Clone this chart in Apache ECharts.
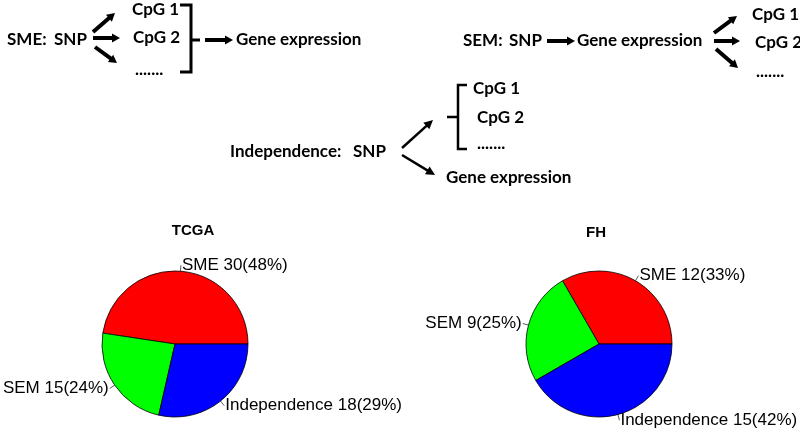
<!DOCTYPE html>
<html>
<head>
<meta charset="utf-8">
<script src="https://cdn.jsdelivr.net/npm/echarts@6/dist/echarts.min.js"></script>
<style>html,body{margin:0;padding:0;background:#fff}#c{width:800px;height:432px}</style>
</head>
<body>
<div id="c"></div>
<script>
// ---- data ----
const categories = ['SME', 'SEM', 'Independence'];
const tcgaValues = [30, 15, 18];
const fhValues = [12, 9, 15];
const sliceColors = ['#ff0000', '#00ff00', '#0000ff'];
const pieTitles = ['TCGA', 'FH'];

const chart = echarts.init(document.getElementById('c'));
const DFONT = 'bold 17px Lato';

function txt(s, x, y, font, align) {
  return { type: 'text', silent: true, style: { text: s, x: x, y: y, font: font || DFONT, fill: '#000',
    align: align || 'left', verticalAlign: 'middle', textAlign: align || 'left', textVerticalAlign: 'middle' } };
}
function line(points, w) {
  return { type: 'polyline', silent: true, shape: { points: points }, style: { stroke: '#000', lineWidth: w, fill: null, lineJoin: 'miter', lineCap: 'butt' } };
}
function arrow(x1, y1, x2, y2, w, h, hw) {
  const dx = x2 - x1, dy = y2 - y1, L = Math.sqrt(dx * dx + dy * dy);
  const ux = dx / L, uy = dy / L, nx = -uy, ny = ux;
  const bx = x2 - ux * h, by = y2 - uy * h;
  return [
    line([[x1, y1], [bx + ux, by + uy]], w),
    { type: 'polygon', silent: true, shape: { points: [[x2, y2], [bx + nx * hw, by + ny * hw], [bx - nx * hw, by - ny * hw]] }, style: { fill: '#000' } }
  ];
}

const els = [];
// SME diagram
els.push(txt('SME:', 7, 40), txt('SNP', 54, 40));
els.push(...arrow(93, 32, 115, 13, 4, 8, 4.5));
els.push(...arrow(93, 38, 120, 38, 4, 8, 4.5));
els.push(...arrow(95, 47, 117, 63, 4, 8, 4.5));
els.push(txt('CpG 1', 132, 10), txt('CpG 2', 133, 38), txt('.......', 135, 70));
els.push(line([[180, 5], [191, 5], [191, 72], [180, 72]], 3));
els.push(line([[191, 40], [200, 40]], 3));
els.push(...arrow(205, 40, 233, 40, 4, 8, 4.5));
els.push(txt('Gene expression', 236, 40));

// SEM diagram
els.push(txt('SEM:', 463, 41), txt('SNP', 509, 41));
els.push(...arrow(547, 41, 575, 41, 4, 8, 4.5));
els.push(txt('Gene expression', 577, 41));
els.push(...arrow(714, 33, 737, 16, 4, 8, 4.5));
els.push(...arrow(714, 41, 740, 41, 4, 8, 4.5));
els.push(...arrow(716, 49, 738, 68, 4, 8, 4.5));
els.push(txt('CpG 1', 752, 15), txt('CpG 2', 755, 43), txt('.......', 756, 72));

// Independence diagram
els.push(txt('Independence:', 230, 152), txt('SNP', 353, 152));
els.push(...arrow(402, 148, 433, 120, 2.5, 9, 4.5));
els.push(...arrow(402, 155, 435, 175, 2.5, 9, 4.5));
els.push(line([[467, 85], [458, 85], [458, 149], [467, 149]], 2.5));
els.push(line([[447, 117], [458, 117]], 2.5));
els.push(txt('CpG 1', 473, 89), txt('CpG 2', 477, 118), txt('.......', 477, 144));
els.push(txt('Gene expression', 446, 178));

// pie titles
els.push(txt(pieTitles[0], 193, 231, 'bold 15px "Liberation Sans"', 'center'));
els.push(txt(pieTitles[1], 596, 233, 'bold 15px "Liberation Sans"', 'center'));

function pieSeries(values, center) {
  const total = values.reduce((a, b) => a + b, 0);
  return {
    type: 'pie',
    center: center,
    radius: 73,
    startAngle: 0,
    clockwise: false,
    avoidLabelOverlap: false,
    silent: true,
    animation: false,
    emphasis: { disabled: true },
    itemStyle: { borderColor: '#000', borderWidth: 0.8 },
    label: {
      show: true, position: 'outside', color: '#000',
      fontFamily: '"Liberation Sans", Arial, sans-serif', fontSize: 17,
      distanceToLabelLine: 1,
      formatter: p => p.name + ' ' + p.value + '(' + Math.round(p.value / total * 100) + '%)'
    },
    labelLine: { show: true, length: 6, length2: 0, smooth: false, lineStyle: { color: '#333', width: 0.8 } },
    data: categories.map((c, i) => ({ name: c, value: values[i], itemStyle: { color: sliceColors[i] } }))
  };
}

chart.setOption({
  backgroundColor: '#fff',
  animation: false,
  series: [pieSeries(tcgaValues, [175, 344]), pieSeries(fhValues, [599, 344])],
  graphic: { elements: els }
});
</script>
</body>
</html>
